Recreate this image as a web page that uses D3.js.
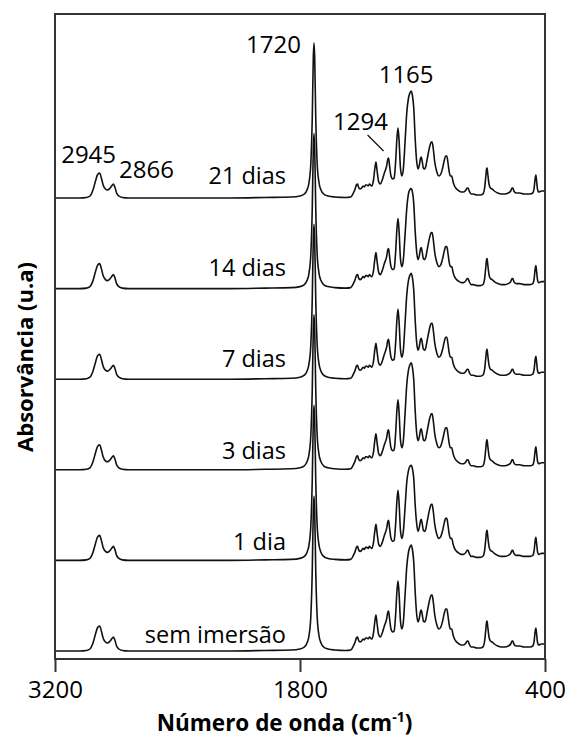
<!DOCTYPE html>
<html>
<head>
<meta charset="utf-8">
<script src="https://cdn.jsdelivr.net/npm/d3@7"></script>
<style>
  html, body { margin: 0; padding: 0; background: #fff; }
  svg { display: block; }
  text { font-family: "Open Sans", "Noto Sans", sans-serif; fill: #000; }
</style>
</head>
<body>
<svg id="chart" width="569" height="740"></svg>
<script>
// FTIR spectra of the samples, wavenumber (cm-1) vs absorbance (a.u.)
const wavenumbers = [3200,3060,3020,3000,2985,2970,2958,2945,2935,2925,2912,2900,2885,2872,2866,2858,2848,2835,2815,2780,2500,2200,2000,1850,1800,1775,1760,1748,1738,1730,1724,1720,1716,1710,1702,1692,1680,1665,1640,1600,1540,1510,1495,1485,1478,1471,1466,1457,1448,1440,1432,1425,1418,1410,1403,1397,1390,1380,1372,1366,1360,1350,1341,1330,1318,1305,1298,1294,1288,1280,1270,1262,1254,1246,1240,1234,1226,1218,1210,1200,1190,1180,1172,1165,1158,1150,1142,1134,1126,1118,1111,1107,1102,1095,1088,1082,1072,1058,1050,1045,1039,1030,1018,1006,995,985,975,968,961,955,948,941,933,925,917,905,890,879,865,852,845,840,833,822,810,790,770,755,745,738,733,731,727,720,712,702,690,670,650,630,610,596,588,584,578,565,545,520,500,485,470,462,456,452,448,442,436,420,407,400];

const spectrum0d = [0,0,0.005,0.02,0.07,0.16,0.23,0.25,0.20,0.13,0.09,0.08,0.10,0.13,0.14,0.11,0.05,0.02,0.005,0,0,0,0.005,0.01,0.02,0.04,0.08,0.16,0.35,0.80,1.40,1.55,1.40,0.80,0.35,0.16,0.08,0.04,0.02,0.01,0.005,0.01,0.05,0.09,0.13,0.14,0.11,0.09,0.10,0.12,0.11,0.13,0.13,0.12,0.14,0.13,0.12,0.18,0.30,0.36,0.28,0.16,0.14,0.18,0.25,0.32,0.39,0.40,0.32,0.22,0.19,0.20,0.35,0.60,0.70,0.58,0.30,0.22,0.28,0.55,0.84,0.99,1.04,1.06,1.02,0.89,0.60,0.38,0.29,0.33,0.40,0.41,0.37,0.30,0.29,0.31,0.40,0.52,0.56,0.56,0.50,0.36,0.26,0.22,0.24,0.30,0.38,0.42,0.42,0.36,0.27,0.22,0.22,0.16,0.12,0.09,0.07,0.06,0.06,0.08,0.10,0.10,0.07,0.04,0.04,0.03,0.03,0.04,0.10,0.22,0.30,0.30,0.24,0.14,0.10,0.09,0.07,0.05,0.04,0.04,0.05,0.07,0.10,0.10,0.07,0.05,0.05,0.04,0.04,0.04,0.05,0.10,0.20,0.23,0.17,0.08,0.06,0.07,0.07,0.08];

const spectrum1d = [0,0,0.005,0.02,0.07,0.16,0.23,0.25,0.20,0.13,0.09,0.08,0.10,0.13,0.14,0.11,0.05,0.02,0.005,0,0,0,0.005,0.01,0.02,0.04,0.08,0.16,0.35,0.80,1.40,1.55,1.40,0.80,0.35,0.16,0.08,0.04,0.02,0.01,0.005,0.01,0.05,0.09,0.13,0.14,0.11,0.09,0.10,0.12,0.11,0.13,0.13,0.12,0.14,0.13,0.12,0.18,0.30,0.36,0.28,0.16,0.14,0.18,0.25,0.32,0.39,0.40,0.32,0.22,0.19,0.20,0.35,0.60,0.70,0.58,0.30,0.22,0.28,0.52,0.78,0.90,0.94,0.95,0.92,0.82,0.56,0.38,0.29,0.33,0.40,0.41,0.37,0.30,0.29,0.31,0.40,0.52,0.56,0.56,0.50,0.36,0.26,0.22,0.24,0.30,0.38,0.42,0.42,0.36,0.27,0.22,0.22,0.16,0.12,0.09,0.07,0.06,0.06,0.08,0.10,0.10,0.07,0.04,0.04,0.03,0.03,0.04,0.10,0.22,0.30,0.30,0.24,0.14,0.10,0.09,0.07,0.05,0.04,0.04,0.05,0.07,0.10,0.10,0.07,0.05,0.05,0.04,0.04,0.04,0.05,0.10,0.20,0.23,0.17,0.08,0.06,0.07,0.07,0.08];

const spectrum3d = [0,0,0.005,0.02,0.07,0.16,0.23,0.25,0.20,0.13,0.09,0.08,0.10,0.13,0.14,0.11,0.05,0.02,0.005,0,0,0,0.005,0.01,0.02,0.04,0.08,0.16,0.35,0.80,1.40,1.55,1.40,0.80,0.35,0.16,0.08,0.04,0.02,0.01,0.005,0.01,0.05,0.09,0.13,0.14,0.11,0.09,0.10,0.12,0.11,0.13,0.13,0.12,0.14,0.13,0.12,0.18,0.30,0.36,0.28,0.16,0.14,0.18,0.25,0.32,0.39,0.40,0.32,0.22,0.19,0.20,0.35,0.60,0.70,0.58,0.30,0.22,0.28,0.55,0.85,1.00,1.05,1.07,1.03,0.90,0.60,0.38,0.29,0.33,0.40,0.41,0.37,0.30,0.29,0.31,0.40,0.52,0.56,0.56,0.50,0.36,0.26,0.22,0.24,0.30,0.38,0.42,0.42,0.36,0.27,0.22,0.22,0.16,0.12,0.09,0.07,0.06,0.06,0.08,0.10,0.10,0.07,0.04,0.04,0.03,0.03,0.04,0.10,0.22,0.30,0.30,0.24,0.14,0.10,0.09,0.07,0.05,0.04,0.04,0.05,0.07,0.10,0.10,0.07,0.05,0.05,0.04,0.04,0.04,0.05,0.10,0.20,0.23,0.17,0.08,0.06,0.07,0.07,0.08];

const spectrum7d = [0,0,0.005,0.02,0.07,0.16,0.23,0.25,0.20,0.13,0.09,0.08,0.10,0.13,0.14,0.11,0.05,0.02,0.005,0,0,0,0.005,0.01,0.02,0.04,0.08,0.16,0.35,0.80,1.40,1.55,1.40,0.80,0.35,0.16,0.08,0.04,0.02,0.01,0.005,0.01,0.05,0.09,0.13,0.14,0.11,0.09,0.10,0.12,0.11,0.13,0.13,0.12,0.14,0.13,0.12,0.18,0.30,0.36,0.28,0.16,0.14,0.18,0.25,0.32,0.39,0.40,0.32,0.22,0.19,0.20,0.35,0.60,0.70,0.58,0.30,0.22,0.28,0.55,0.84,0.99,1.04,1.06,1.02,0.89,0.60,0.38,0.29,0.33,0.40,0.41,0.37,0.30,0.29,0.31,0.40,0.52,0.56,0.56,0.50,0.36,0.26,0.22,0.24,0.30,0.38,0.42,0.42,0.36,0.27,0.22,0.22,0.16,0.12,0.09,0.07,0.06,0.06,0.08,0.10,0.10,0.07,0.04,0.04,0.03,0.03,0.04,0.10,0.22,0.30,0.30,0.24,0.14,0.10,0.09,0.07,0.05,0.04,0.04,0.05,0.07,0.10,0.10,0.07,0.05,0.05,0.04,0.04,0.04,0.05,0.10,0.20,0.23,0.17,0.08,0.06,0.07,0.07,0.08];

const spectrum14d = [0,0,0.005,0.02,0.07,0.16,0.23,0.25,0.20,0.13,0.09,0.08,0.10,0.13,0.14,0.11,0.05,0.02,0.005,0,0,0,0.005,0.01,0.02,0.04,0.08,0.16,0.35,0.80,1.40,1.55,1.40,0.80,0.35,0.16,0.08,0.04,0.02,0.01,0.005,0.01,0.05,0.09,0.13,0.14,0.11,0.09,0.10,0.12,0.11,0.13,0.13,0.12,0.14,0.13,0.12,0.18,0.30,0.36,0.28,0.16,0.14,0.18,0.25,0.32,0.39,0.40,0.32,0.22,0.19,0.20,0.35,0.60,0.70,0.58,0.30,0.22,0.28,0.53,0.80,0.95,0.99,1.00,0.97,0.85,0.58,0.38,0.29,0.33,0.40,0.41,0.37,0.30,0.29,0.31,0.40,0.52,0.56,0.56,0.50,0.36,0.26,0.22,0.24,0.30,0.38,0.42,0.42,0.36,0.27,0.22,0.22,0.16,0.12,0.09,0.07,0.06,0.06,0.08,0.10,0.10,0.07,0.04,0.04,0.03,0.03,0.04,0.10,0.22,0.30,0.30,0.24,0.14,0.10,0.09,0.07,0.05,0.04,0.04,0.05,0.07,0.10,0.10,0.07,0.05,0.05,0.04,0.04,0.04,0.05,0.10,0.20,0.23,0.17,0.08,0.06,0.07,0.07,0.08];

const spectrum21d = [0,0,0.005,0.02,0.07,0.16,0.23,0.25,0.20,0.13,0.09,0.08,0.10,0.13,0.14,0.11,0.05,0.02,0.005,0,0,0,0.005,0.01,0.02,0.04,0.08,0.16,0.35,0.80,1.40,1.55,1.40,0.80,0.35,0.16,0.08,0.04,0.02,0.01,0.005,0.01,0.05,0.09,0.13,0.14,0.11,0.09,0.10,0.12,0.11,0.13,0.13,0.12,0.14,0.13,0.12,0.18,0.30,0.36,0.28,0.16,0.14,0.18,0.25,0.32,0.39,0.40,0.32,0.22,0.19,0.20,0.35,0.60,0.70,0.58,0.30,0.22,0.28,0.55,0.85,1.00,1.05,1.07,1.03,0.90,0.60,0.38,0.29,0.33,0.40,0.41,0.37,0.30,0.29,0.31,0.40,0.52,0.56,0.56,0.50,0.36,0.26,0.22,0.24,0.30,0.38,0.42,0.42,0.36,0.27,0.22,0.22,0.16,0.12,0.09,0.07,0.06,0.06,0.08,0.10,0.10,0.07,0.04,0.04,0.03,0.03,0.04,0.10,0.22,0.30,0.30,0.24,0.14,0.10,0.09,0.07,0.05,0.04,0.04,0.05,0.07,0.10,0.10,0.07,0.05,0.05,0.04,0.04,0.04,0.05,0.10,0.20,0.23,0.17,0.08,0.06,0.07,0.07,0.08];

const seriesNames = ["sem imersão", "1 dia", "3 dias", "7 dias", "14 dias", "21 dias"];
const seriesValues = [spectrum0d, spectrum1d, spectrum3d, spectrum7d, spectrum14d, spectrum21d];

const xTicks = [3200, 1800, 400];
const peakLabels = [
  { text: "2945", wn: 2945, series: 5 },
  { text: "2866", wn: 2866, series: 5 },
  { text: "1720", wn: 1720, series: 5 },
  { text: "1294", wn: 1294, series: 5 },
  { text: "1165", wn: 1165, series: 5 }
];

const svg = d3.select("#chart");
const plot = { left: 55, right: 545, top: 14, bottom: 659 };

const x = d3.scaleLinear().domain([3200, 400]).range([plot.left, plot.right]);
const y = d3.scaleLinear().domain([0, 6.45]).range([plot.bottom, plot.top]);

// vertical stacking of the spectra
const baseOffset = 0.08, stackStep = 0.906;
const offsetOf = i => baseOffset + i * stackStep;

const line = d3.line()
  .x(d => x(d[0]))
  .y(d => y(d[1]))
  .curve(d3.curveMonotoneX);

const labelLift = [8, 10, 11, 12, 13, 14];
seriesValues.forEach((vals, i) => {
  const pts = wavenumbers.map((wn, k) => [wn, vals[k] + offsetOf(i)]);
  svg.append("path")
    .attr("d", line(pts))
    .attr("fill", "none")
    .attr("stroke", "#111")
    .attr("stroke-width", 1.6)
    .attr("stroke-linejoin", "round");
  svg.append("text")
    .attr("x", 286)
    .attr("y", y(offsetOf(i)) - labelLift[i])
    .attr("text-anchor", "end")
    .attr("font-size", 23.5)
    .text(seriesNames[i]);
});

// frame
svg.append("rect")
  .attr("x", plot.left).attr("y", plot.top)
  .attr("width", plot.right - plot.left).attr("height", plot.bottom - plot.top)
  .attr("fill", "none").attr("stroke", "#333").attr("stroke-width", 2);

// x axis
const xAxis = d3.axisBottom(x).tickValues(xTicks).tickFormat(d3.format("d"))
  .tickSize(13).tickSizeOuter(0).tickPadding(9);
const gx = svg.append("g").attr("transform", `translate(0,${plot.bottom})`).call(xAxis);
gx.select(".domain").remove();
gx.selectAll(".tick line").attr("stroke", "#333").attr("stroke-width", 2);
gx.selectAll(".tick text").attr("font-size", 24).attr("font-family", "Open Sans, sans-serif").attr("fill", "#000");

// axis titles
const xt = svg.append("text")
  .attr("x", 284.5).attr("y", 731)
  .attr("text-anchor", "middle")
  .attr("font-size", 22.5).attr("font-weight", "bold");
xt.append("tspan").text("Número de onda (cm");
xt.append("tspan").attr("font-size", 14).attr("dy", -9).text("-1");
xt.append("tspan").attr("dy", 9).text(")");

svg.append("text")
  .attr("transform", "translate(33,357) rotate(-90)")
  .attr("text-anchor", "middle")
  .attr("font-size", 22).attr("font-weight", "bold")
  .text("Absorvância (u.a)");

// peak annotations on the top spectrum (offsets from the peak top, px)
const labelPos = {
  "2945": { dx: -11, dy: -10, anchor: "middle" },
  "2866": { dx: 33, dy: -6, anchor: "middle" },
  "1720": { dx: -13, dy: 10, anchor: "end" },
  "1294": { dx: -28, dy: -28, anchor: "middle" },
  "1165": { dx: -5, dy: -8, anchor: "middle" }
};
peakLabels.forEach(p => {
  const k = wavenumbers.indexOf(p.wn);
  const v = seriesValues[p.series][k] + offsetOf(p.series);
  const pos = labelPos[p.text];
  svg.append("text")
    .attr("x", x(p.wn) + pos.dx)
    .attr("y", y(v) + pos.dy)
    .attr("text-anchor", pos.anchor)
    .attr("font-size", 24)
    .text(p.text);
});
// leader line for 1294
{
  const k = wavenumbers.indexOf(1294);
  const v = seriesValues[5][k] + offsetOf(5);
  svg.append("line")
    .attr("x1", x(1294) - 21).attr("y1", y(v) - 23)
    .attr("x2", x(1294) - 5).attr("y2", y(v) - 7)
    .attr("stroke", "#111").attr("stroke-width", 1.2);
}
</script>
</body>
</html>
